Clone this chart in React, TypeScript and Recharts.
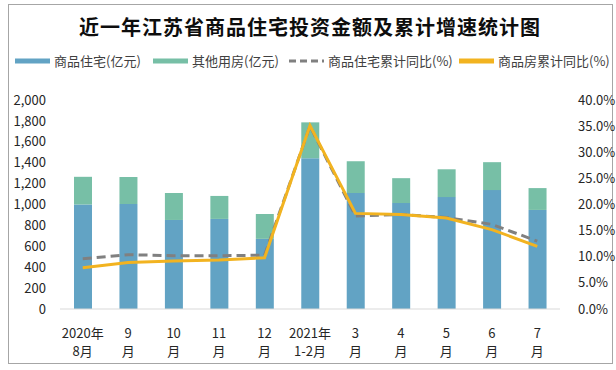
import { ComposedChart, Bar, Line, XAxis, YAxis } from 'recharts'

const CATEGORIES = ['2020年\n8月', '9\n月', '10\n月', '11\n月', '12\n月', '2021年\n1-2月', '3\n月', '4\n月', '5\n月', '6\n月', '7\n月']
const RESIDENTIAL = [1000, 1005, 852, 862, 671, 1443, 1110, 1014, 1071, 1138, 948]
const OTHER = [265, 258, 258, 220, 238, 343, 304, 238, 266, 267, 209]
const RESIDENTIAL_YOY = [9.6, 10.4, 10.2, 10.2, 10.3, 35.0, 17.8, 18.1, 17.5, 16.2, 13.0]
const HOUSING_YOY = [7.9, 8.9, 9.2, 9.4, 9.8, 35.1, 18.3, 18.1, 17.4, 15.2, 12.0]
const LEFT_TICKS = [0, 200, 400, 600, 800, 1000, 1200, 1400, 1600, 1800, 2000]
const RIGHT_TICKS = [0, 5, 10, 15, 20, 25, 30, 35, 40]

const LEGEND_ITEMS = [
  { label: '商品住宅(亿元)', color: '#62A3C4', dashed: false, left: 15 },
  { label: '其他用房(亿元)', color: '#77BFA6', dashed: false, left: 153 },
  { label: '商品住宅累计同比(%)', color: '#808080', dashed: true, left: 289 },
  { label: '商品房累计同比(%)', color: '#F2B320', dashed: false, left: 459 },
]

const FONT = '"Noto Sans CJK SC", "Noto Sans", sans-serif'
const TEXT = '#262626'

const data = CATEGORIES.map((name, i) => ({
  name,
  residential: RESIDENTIAL[i],
  other: OTHER[i],
  residentialYoy: RESIDENTIAL_YOY[i],
  housingYoy: HOUSING_YOY[i],
}))

function TwoLineTick({ x, y, payload }: any) {
  const [top, bottom] = String(payload.value).split('\n')
  return (
    <text x={x} y={y} textAnchor="middle" fontSize={13} fill={TEXT} fontFamily={FONT}>
      <tspan x={x} dy={21}>{top}</tspan>
      <tspan x={x} dy={18}>{bottom}</tspan>
    </text>
  )
}

function ChartLegend() {
  return (
    <>
      {LEGEND_ITEMS.map((item) => (
        <div
          key={item.label}
          style={{
            position: 'absolute',
            top: 51,
            left: item.left,
            display: 'flex',
            alignItems: 'center',
            fontSize: 13,
            color: '#404040',
            whiteSpace: 'nowrap',
          }}
        >
          <svg width={35} height={6} style={{ marginRight: 4 }}>
            <line
              x1={0}
              y1={3}
              x2={35}
              y2={3}
              stroke={item.color}
              strokeWidth={item.dashed ? 3 : 5}
              strokeDasharray={item.dashed ? '7 4' : undefined}
            />
          </svg>
          <span>{item.label}</span>
        </div>
      ))}
    </>
  )
}

export default function App() {
  return (
    <div style={{ position: 'absolute', left: 0, top: 0, width: 616, height: 370, background: '#fff', fontFamily: FONT }}>
      <div
        style={{
          position: 'absolute',
          left: 8,
          top: 4,
          width: 605,
          height: 360,
          boxSizing: 'border-box',
          border: '1px solid #A6A6A6',
        }}
      />
      <div
        style={{
          position: 'absolute',
          left: 0,
          top: 12,
          width: 620,
          textAlign: 'center',
          fontSize: 20,
          fontWeight: 700,
          color: '#0d0d0d',
          lineHeight: '30px',
          letterSpacing: 1,
        }}
      >
        近一年江苏省商品住宅投资金额及累计增速统计图
      </div>
      <ChartLegend />
      <ComposedChart
        width={616}
        height={370}
        data={data}
        margin={{ top: 100, right: 8, bottom: 20, left: 8 }}
        barSize={18}
        style={{ position: 'absolute', left: 0, top: 0 }}
      >
        <XAxis
          dataKey="name"
          interval={0}
          height={41}
          tickLine={false}
          axisLine={{ stroke: '#D9D9D9' }}
          tick={<TwoLineTick />}
        />
        <YAxis
          yAxisId="left"
          domain={[0, 2000]}
          ticks={LEFT_TICKS}
          interval={0}
          width={52}
          axisLine={false}
          tickLine={false}
          tickFormatter={(v: number) => v.toLocaleString('en-US')}
          tick={{ fontSize: 13, fill: TEXT, fontFamily: FONT }}
          tickMargin={8}
        />
        <YAxis
          yAxisId="right"
          orientation="right"
          domain={[0, 40]}
          ticks={RIGHT_TICKS}
          interval={0}
          width={48}
          axisLine={false}
          tickLine={false}
          tickFormatter={(v: number) => `${v.toFixed(1)}%`}
          tick={{ fontSize: 13, fill: TEXT, fontFamily: FONT }}
          tickMargin={12}
        />
        <Bar yAxisId="left" dataKey="residential" name="商品住宅(亿元)" stackId="a" fill="#62A3C4" isAnimationActive={false} />
        <Bar yAxisId="left" dataKey="other" name="其他用房(亿元)" stackId="a" fill="#77BFA6" isAnimationActive={false} />
        <Line
          yAxisId="right"
          dataKey="residentialYoy"
          name="商品住宅累计同比(%)"
          stroke="#808080"
          strokeWidth={3}
          strokeDasharray="9 5"
          dot={false}
          activeDot={false}
          isAnimationActive={false}
        />
        <Line
          yAxisId="right"
          dataKey="housingYoy"
          name="商品房累计同比(%)"
          stroke="#F2B320"
          strokeWidth={3}
          dot={false}
          activeDot={false}
          isAnimationActive={false}
        />
      </ComposedChart>
    </div>
  )
}
